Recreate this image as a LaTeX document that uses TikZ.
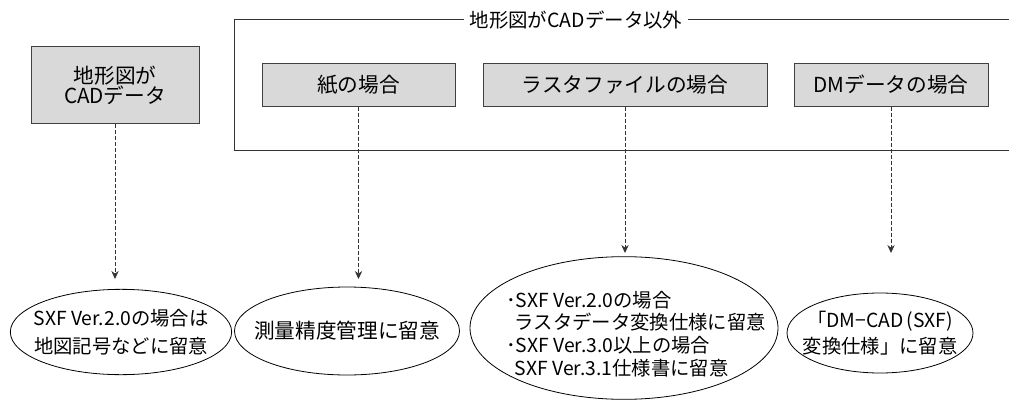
\documentclass[tikz,border=0pt]{standalone}
\usepackage{fontspec}
\setmainfont{Noto Sans CJK JP}
\usetikzlibrary{shapes.geometric,arrows.meta}
\begin{document}
\begin{tikzpicture}[x=0.75pt,y=-0.75pt,
  box/.style={draw=black!75,fill=black!15,line width=0.75pt,minimum height=31.5pt,inner sep=0pt,
    font=\fontsize{15.5pt}{15pt}\selectfont,align=center},
  oval/.style={draw=black,ellipse,line width=0.6pt,inner sep=0pt},
  lbl/.style={font=\fontsize{14.5pt}{21pt}\selectfont,align=center,inner sep=0pt},
  conn/.style={draw=black!80,dash pattern=on 3pt off 1.5pt,line width=0.6pt,-{Stealth[length=6pt,width=5.5pt]}},
  frame/.style={draw=black!80,line width=0.75pt},
  title/.style={font=\fontsize{14.6pt}{15pt}\selectfont,inner xsep=4pt,inner ysep=0pt}]
\useasboundingbox (0,0) rectangle (1009,403);

% frame for non-CAD cases
\coordinate (ftl) at (234,20);
\coordinate (fbl) at (234,150);
\coordinate (ftr) at (1009,20);
\coordinate (fbr) at (1009,150);
\node[title] (title) at (576,20) {地形図がCADデータ以外};
\draw[frame] (title.west) -- (ftl) -- (fbl) -- (fbr);
\draw[frame] (title.east) -- (ftr);

% boxes
\node[box,minimum width=126pt,minimum height=57pt] (cad) at (115,85) {地形図が\\CADデータ};
\node[box,minimum width=144.75pt] (paper) at (358.5,85) {紙の場合};
\node[box,minimum width=213pt] (raster) at (625,85) {ラスタファイルの場合};
\node[box,minimum width=145.5pt] (dm) at (891,85) {DMデータの場合};

% ellipses
\node[oval,minimum width=166pt,minimum height=64pt] (e1) at (121,332) {};
\node[lbl] (t1) at (e1) {SXF Ver.2.0の場合は\\地図記号などに留意};
\node[oval,minimum width=168.75pt,minimum height=66pt] (e2) at (347,331) {};
\node[lbl,font=\fontsize{15.5pt}{21pt}\selectfont] (t2) at (e2) {測量精度管理に留意};
\node[oval,minimum width=231pt,minimum height=107pt] (e3) at (624,328) {};
\node[lbl,align=left,font=\fontsize{14.5pt}{17pt}\selectfont] (t3) at (636,334)
  {･SXF Ver.2.0の場合\\\hspace{0.45em}ラスタデータ変換仕様に留意\\･SXF Ver.3.0以上の場合\\\hspace{0.45em}SXF Ver.3.1仕様書に留意};
\node[oval,minimum width=139.5pt,minimum height=60pt] (e4) at (880,333) {};
\node[lbl,font=\fontsize{14.5pt}{19pt}\selectfont] (t4) at (e4) {「DM−CAD\,(SXF)\\変換仕様」に留意};

% arrow ends
\coordinate (a1) at (115,279);
\coordinate (a2) at (358.5,279);
\coordinate (a3) at (625,253);
\coordinate (a4) at (891,253);

\draw[conn] (cad.south) -- (a1);
\draw[conn] (paper.south) -- (a2);
\draw[conn] (raster.south) -- (a3);
\draw[conn] (dm.south) -- (a4);
\end{tikzpicture}
\end{document}
